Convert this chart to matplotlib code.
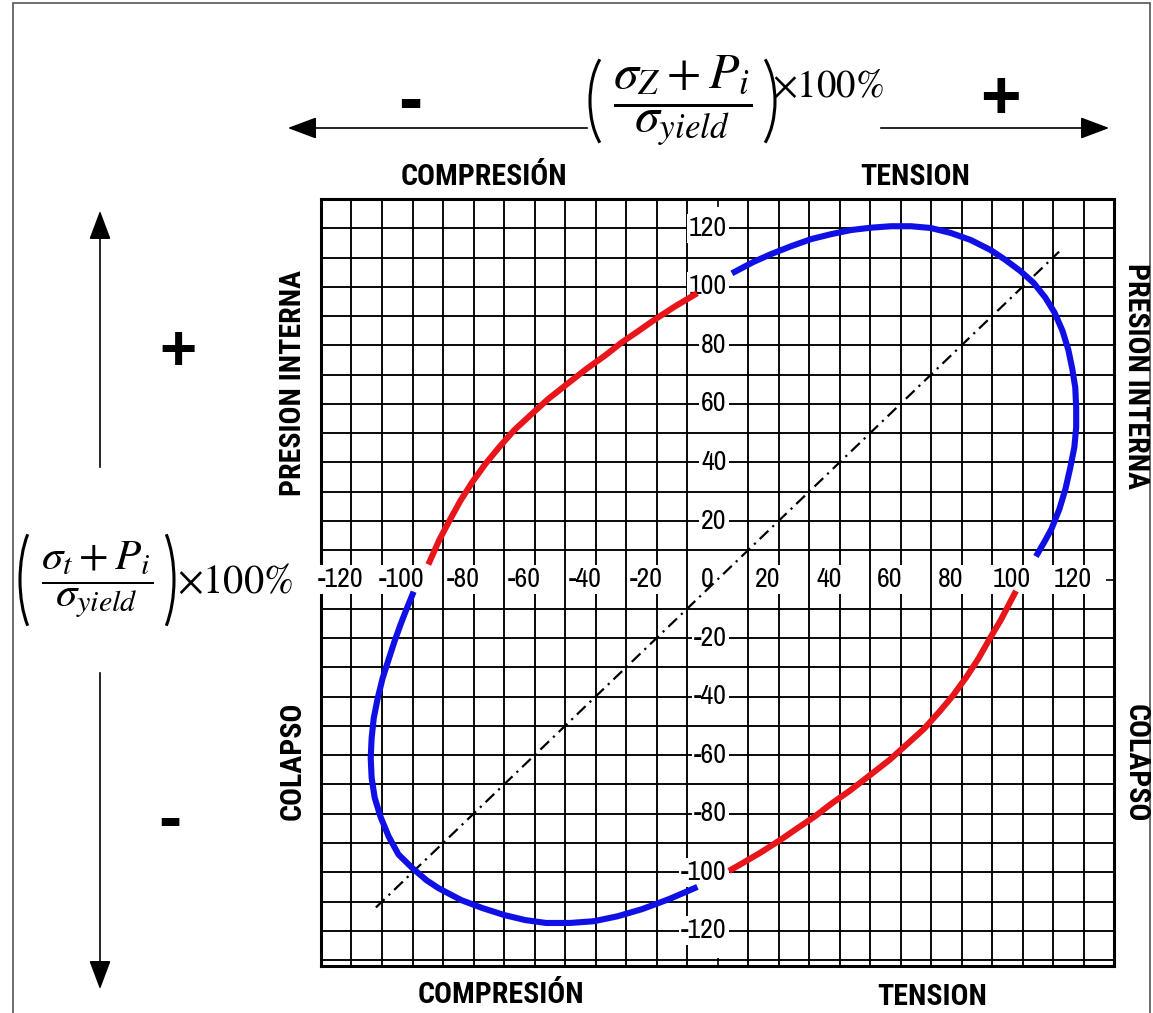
import math
import matplotlib
matplotlib.use('Agg')
import matplotlib.pyplot as plt
from matplotlib import font_manager
from matplotlib.patches import FancyArrowPatch, Rectangle, Arc
from matplotlib.transforms import IdentityTransform

W, H = 1153, 1013

# curvas: x = (sz+Pi)/sy %, y = (st+Pi)/sy %
blue_top_x = [5.6, 11.8, 17.6, 24.2, 30.7, 37.3, 43.8, 50.3, 56.9, 63.4, 69.9, 76.5,
              83.0, 89.5, 94.4, 99.3, 103.6, 107.5, 110.5, 113.1, 115.0, 116.3,
              117.3, 117.6, 117.6, 117.0, 115.7, 114.1, 112.1, 109.5, 107.2, 104.9]
blue_top_y = [105.1, 108.5, 111.2, 113.9, 116.3, 118.0, 119.4, 120.2, 120.7, 120.7,
              120.1, 118.4, 116.0, 112.6, 109.2, 105.4, 101.4, 96.3, 91.2, 85.0,
              78.6, 72.1, 65.6, 58.8, 52.0, 45.2, 38.4, 31.0, 24.1, 17.3, 12.9, 8.8]

red_top_x = [-94.4, -91.2, -87.9, -84.3, -80.4, -76.1, -71.6, -66.7, -61.4, -55.6,
             -48.7, -42.8, -36.9, -31.4, -25.8, -20.6, -14.1, -7.5]
red_top_y = [6.1, 13.6, 20.1, 26.9, 33.3, 39.5, 45.2, 51.0, 56.1, 61.6, 67.3, 72.1,
             76.5, 81.0, 85.0, 88.8, 93.2, 97.3]

red_bot_x = [97.4, 93.0, 89.3, 85.6, 81.6, 77.3, 72.7, 67.7, 62.3, 56.4, 49.4, 43.4,
             37.4, 31.8, 26.1, 20.8, 14.2, 7.5, 4.6]
red_bot_y = [-4.8, -13.6, -20.1, -26.9, -33.3, -39.5, -45.2, -51.0, -56.1, -61.6,
             -67.3, -72.1, -76.5, -81.0, -85.0, -88.8, -93.2, -97.3, -99.0]

blue_bot_x = [-100.0, -102.0, -103.9, -105.9, -107.8, -109.8, -111.4, -112.7, -113.4,
              -113.7, -113.4, -112.4, -110.5, -107.8, -104.6, -100.0, -95.4, -91.5,
              -84.0, -77.1, -69.9, -63.1, -56.2, -48.4, -40.5, -32.7, -24.8, -16.0, -7.5]
blue_bot_y = [-5.1, -10.2, -15.3, -21.1, -27.2, -33.7, -40.5, -47.3, -54.1, -60.9,
              -67.7, -74.5, -81.0, -87.8, -93.9, -98.6, -102.7, -105.4, -109.5, -112.2,
              -114.6, -116.3, -117.3, -117.3, -116.7, -115.0, -112.6, -109.2, -105.4]

diag = [-112, 112]

x_ticks = [-120, -100, -80, -60, -40, -20, 0, 20, 40, 60, 80, 100, 120]
y_ticks = [-120, -100, -80, -60, -40, -20, 20, 40, 60, 80, 100, 120]
grid_vals = [v for v in range(-130, 131, 10) if v != 0]

frac_z = r'$\dfrac{\sigma_Z+P_i}{\sigma_{yield}}$'
frac_t = r'$\dfrac{\sigma_t+P_i}{\sigma_{yield}}$'
pct = r'$\times 100\%$'

plt.rcParams['mathtext.fontset'] = 'stix'


def pick_font(cands, min_w):
    for c in cands:
        for f in font_manager.fontManager.ttflist:
            w = f.weight if isinstance(f.weight, int) else font_manager.weight_dict.get(f.weight, 400)
            if f.name == c and w >= min_w:
                return c
    return 'Liberation Sans'


narrow_cands = ['Liberation Sans Narrow', 'Archivo Narrow', 'Roboto Condensed',
                'Fira Sans Condensed', 'IBM Plex Sans Condensed', 'Barlow Semi Condensed',
                'Encode Sans Semi Condensed', 'Asap Condensed', 'Cabin Condensed']
narrow_bold = pick_font(narrow_cands, 700)
narrow_reg = pick_font(narrow_cands, 400)


def fp(px, py):
    return px / W, 1 - py / H


def paren(fig, xl, xr, yt, yb, left=True, d=28):
    # parentesis grande dibujado como arco (pixeles de la imagen)
    s = math.sin(math.radians(d))
    w = 2 * (xr - xl) / (1 - s)
    h = (yb - yt) / math.cos(math.radians(d))
    cy = H - (yt + yb) / 2
    if left:
        cx, t1, t2 = xl + w / 2, 90 + d, 270 - d
    else:
        cx, t1, t2 = xr - w / 2, -90 + d, 90 - d
    fig.patches.append(Arc((cx, cy), w, h, theta1=t1, theta2=t2,
                           transform=IdentityTransform(), lw=2.2, color='black'))


fig = plt.figure(figsize=(W / 100, H / 100), dpi=100)
ax = fig.add_axes([321 / W, 1 - 966 / H, (1114 - 321) / W, (966 - 199) / H])
ax.set_xlim(-130, 130)
ax.set_ylim(-132, 129)

ax.set_xticks(grid_vals)
ax.set_yticks(grid_vals)
ax.set_xticks([0], minor=True)
ax.set_yticks([0], minor=True)
ax.grid(True, color='black', lw=1.35)
ax.tick_params(which='major', length=0, labelbottom=False, labelleft=False)
ax.tick_params(which='minor', direction='in', length=6, width=1.2,
               top=True, bottom=True, left=True, right=True,
               labelbottom=False, labelleft=False)
for s in ax.spines.values():
    s.set_linewidth(2.2)

box = dict(facecolor='white', edgecolor='none', pad=1.5)
tick_font = dict(family=narrow_reg, fontsize=20, fontweight='medium')
for v in x_ticks:
    ax.text(v - 3.5, 0, str(v), ha='center', va='center', bbox=box, zorder=3, **tick_font)
for v in y_ticks:
    ax.text(3, v, str(v), ha='right', va='center', bbox=box, zorder=3, **tick_font)

ax.plot(diag, diag, color='black', lw=1.6, dashes=(5.4, 2.5, 1, 2.5), zorder=4)
for xs, ys, c in [(blue_top_x, blue_top_y, '#1010e6'), (red_top_x, red_top_y, '#e8161b'),
                  (red_bot_x, red_bot_y, '#e8161b'), (blue_bot_x, blue_bot_y, '#1010e6')]:
    ax.plot(xs, ys, color=c, lw=4.4, solid_joinstyle='round', zorder=5)

# marco exterior
fig.patches.append(Rectangle((13 / W, -0.01), (1150 - 13) / W, 1.01 - 3 / H,
                             transform=fig.transFigure, fill=False,
                             edgecolor='#555555', lw=1.2))

# flechas
arrows = [((590, 128), (285, 128)), ((878, 128), (1112, 128)),
          ((100, 470), (100, 208)), ((100, 670), (100, 992))]
for a, b in arrows:
    fig.patches.append(FancyArrowPatch(fp(*a), fp(*b), transform=fig.transFigure,
                                       arrowstyle='-|>,head_length=1.2,head_width=0.45',
                                       mutation_scale=15, lw=1.2, color='black'))

# formulas
fig.text(*fp(683, 101), frac_z, fontsize=36, ha='center', va='center')
paren(fig, 590, 607, 50, 152, left=True)
paren(fig, 758, 775, 50, 152, left=False)
fig.text(*fp(772, 86), pct, fontsize=28, ha='left', va='center')

fig.text(*fp(97, 580), frac_t, fontsize=31, ha='center', va='center')
paren(fig, 20, 37, 518, 642, left=True)
paren(fig, 157, 174, 518, 642, left=False)
fig.text(*fp(177, 582), pct, fontsize=29, ha='left', va='center')

sign = dict(family='Liberation Sans', fontweight='bold', ha='center', va='center')
fig.text(*fp(410, 103), '-', fontsize=52, **sign)
fig.text(*fp(1000, 100), '+', fontsize=50, **sign)
fig.text(*fp(178, 353), '+', fontsize=46, **sign)
fig.text(*fp(170, 822), '-', fontsize=50, **sign)

bold = dict(family=narrow_bold, fontweight='bold', ha='center', va='center')
fig.text(*fp(484, 177), 'COMPRESIÓN', fontsize=21.5, **bold)
fig.text(*fp(915, 177), 'TENSION', fontsize=21.5, **bold)
fig.text(*fp(501, 995), 'COMPRESIÓN', fontsize=21.5, **bold)
fig.text(*fp(932, 997), 'TENSION', fontsize=21.5, **bold)

fig.text(*fp(293, 383), 'PRESION INTERNA', fontsize=21.5, rotation=90, **bold)
fig.text(*fp(293, 761), 'COLAPSO', fontsize=21.5, rotation=90, **bold)
fig.text(*fp(1136, 376), 'PRESION INTERNA', fontsize=21.5, rotation=-90, **bold)
fig.text(*fp(1136, 763), 'COLAPSO', fontsize=21.5, rotation=-90, **bold)

fig.savefig('out.png', dpi=100)
